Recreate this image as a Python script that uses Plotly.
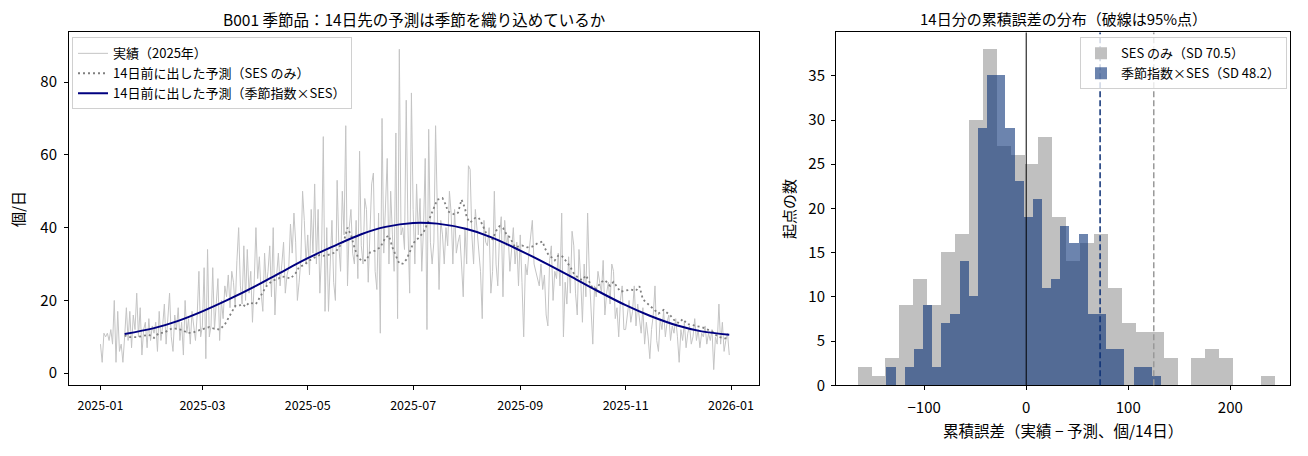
import numpy as np
import pandas as pd
import plotly.graph_objects as go

# ---- data ----
actual_jan = [8, 3, 11, 10, 11, 9, 12, 8, 20, 3, 17, 6, 8, 3, 10, 18, 9, 17, 7, 16, 12, 22, 10, 18, 5, 12, 14, 7, 15, 9, 13]
actual_feb = [11, 14, 6, 17, 9, 13, 19, 8, 15, 22, 10, 6, 16, 12, 18, 9, 14, 5, 20, 11, 15, 8, 17, 12, 9, 16, 28, 10]
actual_mar = [13, 29, 4, 34, 10, 13, 29, 12, 19, 26, 9, 20, 15, 24, 21, 27, 18, 28, 25, 18, 31, 40, 24, 19, 35, 20, 34, 22, 28, 14, 25]
actual_apr = [40, 26, 32, 22, 17, 33, 24, 28, 35, 21, 40, 16, 27, 33, 24, 30, 36, 22, 27, 29, 41, 33, 44, 36, 20, 25, 31, 50, 42, 30]
actual_may = [38, 27, 45, 33, 52, 30, 45, 22, 33, 65, 17, 40, 17, 30, 42, 25, 20, 53, 35, 28, 50, 38, 68, 24, 40, 45, 33, 30, 42, 26, 61]
actual_jun = [35, 30, 48, 45, 25, 37, 52, 55, 28, 23, 44, 11, 70, 33, 48, 59, 30, 50, 38, 28, 66, 15, 89, 38, 40, 34, 75, 40, 22, 77]
actual_jul = [45, 30, 52, 38, 48, 28, 40, 59, 12, 67, 36, 30, 36, 68, 45, 23, 42, 38, 30, 40, 35, 50, 44, 30, 45, 33, 36, 38, 30, 21, 40]
actual_aug = [30, 57, 56, 38, 30, 45, 40, 33, 28, 15, 42, 36, 35, 40, 22, 28, 50, 30, 24, 38, 43, 21, 42, 35, 38, 28, 33, 40, 30, 36, 24]
actual_sep = [38, 25, 10, 30, 27, 33, 38, 42, 30, 28, 26, 24, 30, 23, 27, 16, 13, 31, 35, 20, 28, 26, 33, 24, 44, 10, 25, 19, 32, 22]
actual_oct = [39, 35, 22, 16, 34, 26, 14, 30, 21, 44, 27, 18, 8, 24, 21, 28, 25, 22, 31, 16, 22, 25, 19, 30, 28, 15, 18, 10, 20, 24, 12]
actual_nov = [12, 16, 20, 14, 17, 24, 13, 19, 15, 11, 18, 8, 14, 10, 4, 12, 16, 24, 9, 6, 15, 12, 17, 10, 14, 16, 9, 13, 11, 15]
actual_dec = [10, 3, 12, 9, 14, 7, 11, 13, 8, 10, 15, 9, 12, 7, 11, 10, 13, 8, 11, 9, 12, 1, 10, 8, 19, 8, 14, 6, 9, 11, 5]

# 14-day-ahead forecast, SES only (day of year offset, value)
ses_day = [14, 16, 21, 25, 28, 31, 34, 37, 39, 42, 45, 48, 50, 53, 57,
           60, 63, 66, 69, 72, 74, 76, 78, 80, 82, 84, 86, 90, 92, 94, 96, 98, 100, 103, 105, 108, 110, 113, 115, 118,
           121, 124, 127, 130, 133, 136, 138, 141, 143, 145, 147, 149, 151, 154, 156, 159, 162, 165, 167, 169, 171, 173, 175, 177,
           179, 181, 184, 186, 187, 189, 191, 193, 195, 198, 200, 201, 203, 205, 207, 209, 211, 212, 214, 217, 219, 221, 224, 227, 229, 231, 233, 235, 237, 240,
           244, 247, 250, 253, 256, 257, 259, 261, 263, 265, 267, 270, 272, 274, 277, 279, 281, 283, 285, 287, 290, 292, 295, 297, 299, 301, 304, 307,
           310, 312, 314, 317, 320, 323, 326, 328, 330, 333, 335, 337, 340, 342, 345, 348, 351, 354, 357, 361, 364]
ses_value = [10.4, 9.9, 9.9, 10.3, 10.6, 9.7, 11.1, 11.1, 11.8, 12.4, 12.0, 11.8, 11.1, 11.1, 11.8,
             12.3, 12.7, 12.2, 12.0, 13.4, 15.2, 16.7, 18.5, 18.5, 19.0, 18.3, 19.4, 19.0, 20.6, 22.1, 23.9, 24.8, 25.5, 26.0, 26.6, 26.3, 26.0, 27.5, 29.2, 29.8,
             31.0, 31.8, 32.5, 32.2, 32.8, 33.2, 34.6, 36.4, 40.0, 38.0, 34.6, 31.9, 31.0, 31.0, 33.2, 33.7, 34.6, 37.3, 37.8, 34.6, 32.3, 30.1, 30.1, 31.2,
             33.2, 35.7, 37.1, 38.2, 38.7, 40.8, 43.2, 45.4, 47.7, 48.1, 46.2, 44.5, 44.1, 43.6, 44.1, 47.7, 45.4, 42.7, 41.4, 42.7, 42.7, 40.9, 37.7, 36.8, 39.1, 40.4, 39.9, 38.2, 37.3, 34.6,
             35.1, 34.6, 34.8, 35.7, 36.2, 34.6, 32.8, 31.9, 31.0, 32.3, 32.3, 30.5, 29.2, 27.4, 26.0, 25.6, 26.9, 25.1, 23.3, 23.3, 25.1, 25.6, 24.0, 25.1, 23.7, 22.4, 22.7, 23.0,
             22.7, 23.9, 20.3, 19.0, 17.6, 16.4, 17.4, 16.5, 15.8, 14.1, 13.8, 14.9, 13.4, 13.4, 12.9, 12.7, 12.2, 11.5, 10.2, 9.5, 9.8]

# 14-day-ahead forecast, seasonal index x SES
seas_day = [14, 31, 45, 59, 73, 90, 104, 120, 134, 151, 165, 181, 195, 212, 226, 243, 257, 273, 287, 304, 318, 334, 348, 364]
seas_value = [10.8, 12.4, 14.4, 17.0, 20.0, 24.0, 27.6, 31.6, 34.7, 38.2, 40.2, 41.3, 41.1, 39.6, 37.4, 33.7, 30.4, 26.4, 22.8, 18.7, 15.8, 13.1, 11.5, 10.6]

# histogram of 14-day cumulative error (30 bins each)
ses_err_counts = [2, 1, 3, 9, 12, 9, 15, 17, 30, 38, 27, 26, 25, 28, 19, 14, 16, 17, 11, 7, 6, 6, 3, 0, 3, 4, 3, 0, 0, 1]
ses_err_start, ses_err_width = -165.2, 13.63
seas_err_counts = [2, 0, 2, 4, 9, 2, 7, 8, 14, 10, 29, 35, 35, 29, 23, 19, 21, 11, 12, 18, 16, 17, 8, 8, 4, 4, 0, 2, 2, 1]
seas_err_start, seas_err_width = -137.0, 8.97
ses_p95, seas_p95 = 125.0, 72.4
ses_sd, seas_sd = 70.5, 48.2

actual = (actual_jan + actual_feb + actual_mar + actual_apr + actual_may + actual_jun
          + actual_jul + actual_aug + actual_sep + actual_oct + actual_nov + actual_dec)
start = pd.Timestamp("2025-01-01")
dates = pd.date_range(start, periods=len(actual), freq="D")
ses_dates = start + pd.to_timedelta(ses_day, unit="D")
seas_dates = start + pd.to_timedelta(seas_day, unit="D")

ses_centers = ses_err_start + ses_err_width * (np.arange(len(ses_err_counts)) + 0.5)
seas_centers = seas_err_start + seas_err_width * (np.arange(len(seas_err_counts)) + 0.5)

FONT = "Noto Sans CJK JP"
# page body has an 8px margin, so the figure is a bit smaller and positions are offset
OFF = 8
W, H = 1300, 448

def px_x(v):
    return (v - OFF) / W

def px_y(v):
    return 1 - (v - OFF) / H

fig = go.Figure()

# left panel
fig.add_trace(go.Scatter(x=dates, y=actual, mode="lines", name="実績（2025年）",
                         line=dict(color="#c4c4c4", width=1), xaxis="x", yaxis="y", legend="legend"))
fig.add_trace(go.Scatter(x=ses_dates, y=ses_value, mode="lines", name="14日前に出した予測（SES のみ）",
                         line=dict(color="#808080", width=1.8, dash="2px,3px"), xaxis="x", yaxis="y", legend="legend"))
fig.add_trace(go.Scatter(x=seas_dates, y=seas_value, mode="lines", name="14日前に出した予測（季節指数×SES）",
                         line=dict(color="#000080", width=2, shape="spline"), xaxis="x", yaxis="y", legend="legend"))

# right panel
fig.add_trace(go.Bar(x=ses_centers, y=ses_err_counts, width=ses_err_width,
                     name=f"SES のみ（SD {ses_sd}）", marker=dict(color="#c0c0c0", line=dict(width=0)),
                     xaxis="x2", yaxis="y2", legend="legend2"))
fig.add_trace(go.Bar(x=seas_centers, y=seas_err_counts, width=seas_err_width,
                     name=f"季節指数×SES（SD {seas_sd}）", marker=dict(color="rgba(10,50,120,0.6)", line=dict(width=0)),
                     xaxis="x2", yaxis="y2", legend="legend2"))

fig.add_shape(type="line", xref="x2", yref="y2 domain", x0=0, x1=0, y0=0, y1=1,
              line=dict(color="black", width=1))
fig.add_shape(type="line", xref="x2", yref="y2 domain", x0=seas_p95, x1=seas_p95, y0=0, y1=1,
              line=dict(color="#0b2f75", width=1.5, dash="6px,3px"))
fig.add_shape(type="line", xref="x2", yref="y2 domain", x0=ses_p95, x1=ses_p95, y0=0, y1=1,
              line=dict(color="#999999", width=1.5, dash="6px,3px"))

axis_common = dict(showline=True, mirror=True, linecolor="black", linewidth=1, ticks="outside",
                   ticklen=4, tickcolor="black", showgrid=False, zeroline=False)

fig.update_layout(
    width=W, height=H,
    margin=dict(l=0, r=0, t=0, b=0),
    paper_bgcolor="white", plot_bgcolor="white",
    font=dict(family=FONT, size=15, color="black"),
    barmode="overlay", bargap=0,
    xaxis=dict(domain=[px_x(69), px_x(759)], anchor="y", type="date",
               range=["2024-12-13 19:00", "2026-01-17 05:00"],
               tick0="2025-01-01", dtick="M2", tickformat="%Y-%m",
               tickfont=dict(size=12.5), ticklabelstandoff=5, **axis_common),
    yaxis=dict(domain=[px_y(393), px_y(33)], anchor="x", range=[-3.3, 93.6],
               tickvals=[0, 20, 40, 60, 80], tickfont=dict(size=15), ticklabelstandoff=4, **axis_common),
    xaxis2=dict(domain=[px_x(836), px_x(1290)], anchor="y2", range=[-186.4, 258.5],
                tickvals=[-100, 0, 100, 200], tickfont=dict(size=15), ticklabelstandoff=5, **axis_common),
    yaxis2=dict(domain=[px_y(393), px_y(33)], anchor="x2", range=[0, 39.9],
                dtick=5, tickfont=dict(size=15), ticklabelstandoff=3, **axis_common),
    legend=dict(x=px_x(72), y=px_y(38), xanchor="left", yanchor="top",
                bgcolor="rgba(255,255,255,0.8)", bordercolor="#d0d0d0", borderwidth=1,
                font=dict(size=13), tracegroupgap=0, itemwidth=30),
    legend2=dict(x=px_x(1287), y=px_y(38), xanchor="right", yanchor="top",
                 bgcolor="rgba(255,255,255,0.8)", bordercolor="#d0d0d0", borderwidth=1,
                 font=dict(size=13), tracegroupgap=0, itemwidth=30),
    showlegend=True,
)

annotations = [
    dict(text="B001 季節品：14日先の予測は季節を織り込めているか", x=px_x(414), y=px_y(19),
         font=dict(size=15.5)),
    dict(text="14日分の累積誤差の分布（破線は95%点）", x=px_x(1063), y=px_y(19),
         font=dict(size=15)),
    dict(text="個/日", x=px_x(18), y=px_y(213), textangle=-90, font=dict(size=15)),
    dict(text="起点の数", x=px_x(789), y=px_y(213), textangle=-90, font=dict(size=15)),
    dict(text="累積誤差（実績 − 予測、個/14日）", x=px_x(1063), y=px_y(439), font=dict(size=15.5)),
]
for a in annotations:
    fig.add_annotation(xref="paper", yref="paper", showarrow=False, borderpad=0,
                       xanchor="center", yanchor="middle", **a)

fig.write_html("out.html")
